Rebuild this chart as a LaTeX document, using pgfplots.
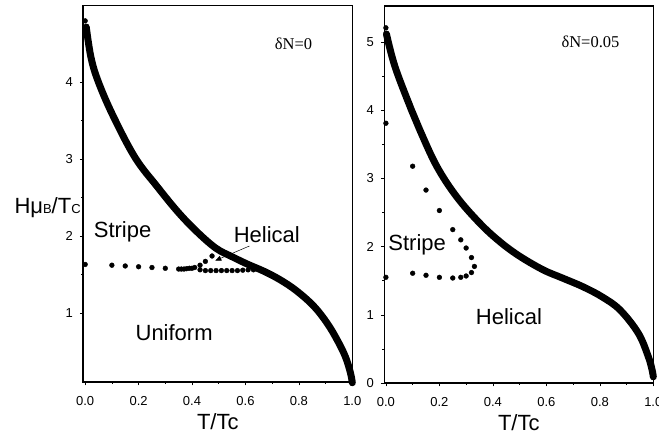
\documentclass[border=0pt]{standalone}
\usepackage{fontspec}
\setmainfont{Liberation Sans}
\newfontfamily\timesfont{Liberation Serif}
\usepackage{pgfplots}
\pgfplotsset{compat=1.18}
\usetikzlibrary{arrows.meta}

\pgfplotsset{
  phase/.style={
    scale only axis, width=269pt,
    xmax=1, clip=false,
    xtick={0,0.2,0.4,0.6,0.8,1}, minor x tick num=1, minor y tick num=1,
    xtick pos=left, ytick pos=left, tick align=outside,
    major tick length=3.5pt, minor tick length=2pt,
    axis line style={line width=1.6pt},
    every tick/.style={black, line width=0.6pt},
    /pgf/number format/assume math mode=true,
    xticklabel style={font=\fontsize{13}{13}\selectfont,
      /pgf/number format/fixed, /pgf/number format/fixed zerofill,
      /pgf/number format/precision=1, yshift=-7.5pt},
    yticklabel style={font=\fontsize{13}{13}\selectfont, xshift=-3.5pt},
    every axis x label/.style={at={(axis description cs:0.5,0)}, anchor=base,
      yshift=-48pt, font=\fontsize{22}{22}\selectfont},
    xlabel={T/Tc},
  },
  boundary/.style={line width=7pt, line cap=round, smooth, tension=0.6, black},
  dots/.style={only marks, mark=*, mark size=2.4pt, black},
}
\newcommand{\reg}{\fontsize{22}{22}\selectfont}

\begin{document}
\begin{tikzpicture}
% dN = 0
\begin{axis}[phase, at={(83.3pt,54pt)}, anchor=south west,
  height=376.5pt, xmin=-0.007, ymin=0.1, ymax=5.0, ytick={1,2,3,4},
  ylabel={Hμ{\fontsize{13}{13}\selectfont B}/T{\fontsize{13}{13}\selectfont C}},
  every axis y label/.style={at={(axis description cs:-0.009,0.462)},
    anchor=east, inner sep=0pt, font=\fontsize{22}{22}\selectfont}]
\addplot[boundary] coordinates {
  (0.004,4.72) (0.022,4.32) (0.05,4.00) (0.105,3.56) (0.187,3.02) (0.268,2.65)
  (0.348,2.31) (0.42,2.05) (0.49,1.84) (0.55,1.73) (0.61,1.63)
  (0.67,1.54) (0.73,1.43) (0.79,1.29) (0.855,1.09) (0.905,0.87)
  (0.943,0.65) (0.974,0.43) (0.993,0.22) (1.0,0.09)};
\addplot[dots] coordinates {
  (0,4.80)
  (0,1.63) (0.1,1.62) (0.15,1.61) (0.2,1.60) (0.25,1.59) (0.3,1.58)
  (0.35,1.57) (0.36,1.57) (0.37,1.57) (0.38,1.575) (0.39,1.58) (0.40,1.58) (0.41,1.59)
  (0.43,1.62) (0.45,1.67) (0.475,1.74)
  (0.43,1.56) (0.45,1.55) (0.47,1.55) (0.49,1.55) (0.51,1.55) (0.53,1.55)
  (0.55,1.55) (0.57,1.55) (0.59,1.555) (0.61,1.56) (0.63,1.56)};
\draw[line width=0.5pt, -{Triangle[length=6pt,width=5pt]}]
  (axis cs:0.615,1.87) -- (axis cs:0.487,1.68);
\node[font=\reg] at (axis cs:0.14,2.06) {Stripe};
\node[font=\reg] at (axis cs:0.68,2.02) {Helical};
\node[font=\reg] at (axis cs:0.333,0.74) {Uniform};
\node[font=\timesfont\fontsize{16.5}{16.5}\selectfont] at (axis cs:0.78,4.5) {δN=0};
\end{axis}
% dN = 0.05
\begin{axis}[phase, at={(384.3pt,53pt)}, anchor=south west,
  height=377pt, xmin=-0.006, ymin=0, ymax=5.53, ytick={0,1,2,3,4,5}]
\addplot[boundary] coordinates {
  (0.002,5.12) (0.034,4.64) (0.096,4.00) (0.127,3.71) (0.19,3.18)
  (0.265,2.73) (0.352,2.34) (0.427,2.07) (0.50,1.86) (0.588,1.66)
  (0.66,1.54) (0.738,1.41) (0.81,1.26) (0.876,1.07) (0.944,0.73)
  (0.981,0.39) (0.995,0.20) (1.0,0.09)};
\addplot[dots] coordinates {
  (0,5.21) (0,3.81)
  (0.10,3.18) (0.15,2.83) (0.20,2.53) (0.25,2.25) (0.28,2.10) (0.30,1.98)
  (0.32,1.84) (0.331,1.71) (0.32,1.62) (0.30,1.57) (0.28,1.55) (0.25,1.54)
  (0.20,1.55) (0.15,1.58) (0.10,1.61) (0,1.55)};
\node[font=\reg] at (axis cs:0.117,2.02) {Stripe};
\node[font=\reg] at (axis cs:0.46,0.97) {Helical};
\node[font=\timesfont\fontsize{16.5}{16.5}\selectfont] at (axis cs:0.765,5.0) {δN=0.05};
\end{axis}
\pgfresetboundingbox
\path[use as bounding box] (0,0) rectangle (659pt,436pt);
\end{tikzpicture}
\end{document}
